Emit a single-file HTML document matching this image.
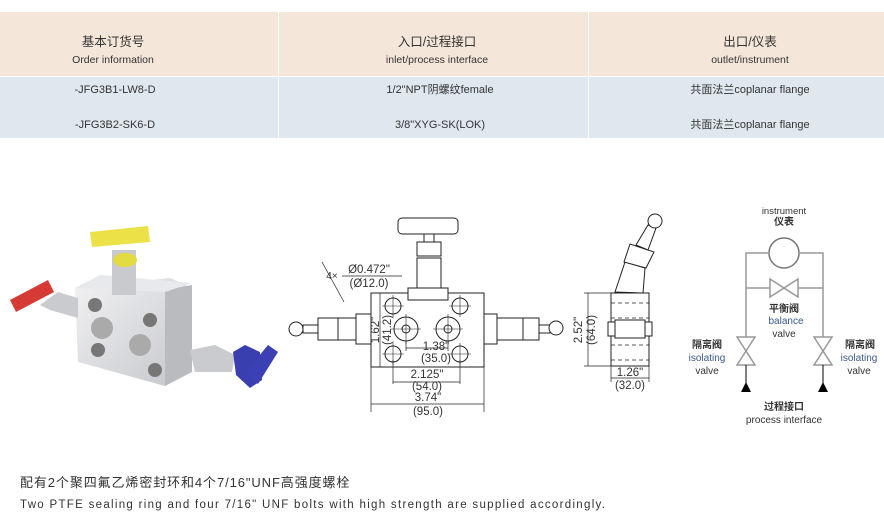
<!DOCTYPE html>
<html><head><meta charset="utf-8"><style>
body{margin:0;background:#fff;width:884px;height:522px;overflow:hidden;position:relative;font-family:"Liberation Sans","Noto Sans CJK SC",sans-serif;color:#333}
.t{position:absolute;white-space:nowrap;transform:translateX(-50%);font-size:11px;text-align:center;line-height:13px}
</style></head><body>
<div style="position:absolute;left:0;top:12px;width:884px;height:64px;background:#f4e6d8"></div>
<div style="position:absolute;left:0;top:77px;width:884px;height:61px;background:#dfe8ee"></div>
<div style="position:absolute;left:278px;top:12px;width:1px;height:126px;background:#fff"></div>
<div style="position:absolute;left:588px;top:12px;width:1px;height:126px;background:#fff"></div>
<div class="t" style="left:113px;top:34px;font-size:12.5px;line-height:17px">基本订货号<br><span style="font-size:10.5px">Order information</span></div>
<div class="t" style="left:437px;top:34px;font-size:12.5px;line-height:17px">入口/过程接口<br><span style="font-size:10.5px">inlet/process interface</span></div>
<div class="t" style="left:750px;top:34px;font-size:12.5px;line-height:17px">出口/仪表<br><span style="font-size:10.5px">outlet/instrument</span></div>
<div class="t" style="left:115px;top:84px">-JFG3B1-LW8-D</div>
<div class="t" style="left:440px;top:84px">1/2"NPT阴螺纹female</div>
<div class="t" style="left:750px;top:84px">共面法兰coplanar flange</div>
<div class="t" style="left:115px;top:119px">-JFG3B2-SK6-D</div>
<div class="t" style="left:440px;top:119px">3/8"XYG-SK(LOK)</div>
<div class="t" style="left:750px;top:119px">共面法兰coplanar flange</div>

<svg style="position:absolute;left:0;top:0" width="884" height="522" font-family="Liberation Sans, Noto Sans CJK SC, sans-serif">
<defs><linearGradient id="s" x1="0" x2="1" y1="0" y2="1"><stop offset="0" stop-color="#f2f2f4"/><stop offset="1" stop-color="#c4c6ca"/></linearGradient></defs>
<g>
<polygon points="75,288 170,278 192,288 190,372 165,386 78,362" fill="url(#s)"/>
<polygon points="165,290 192,285 192,372 165,386" fill="#b9bbbf"/>
<polygon points="75,288 100,275 192,283 165,292" fill="#e8e9ec"/>
<rect x="112" y="250" width="24" height="45" fill="#c8cacd"/>
<ellipse cx="125" cy="260" rx="12" ry="7" fill="#e2dc40"/>
<polygon points="90,232 148,226 150,242 92,247" fill="#ece146"/>
<polygon points="40,305 58,292 78,298 78,318 50,310" fill="#c9cbce"/>
<polygon points="10,300 48,280 54,292 16,312" fill="#d63a34"/>
<polygon points="190,350 215,345 235,355 232,372 195,372" fill="#c9cbce"/>
<polygon points="233,352 245,345 260,352 262,380 250,388 236,375" fill="#3a3fb0"/>
<polygon points="246,372 268,345 278,352 258,384" fill="#3b40b5"/>
<circle cx="95" cy="305" r="7" fill="#777"/><circle cx="150" cy="320" r="7" fill="#777"/>
<circle cx="98" cy="350" r="7" fill="#777"/><circle cx="155" cy="370" r="7" fill="#777"/>
<circle cx="102" cy="328" r="11" fill="#aaa"/><circle cx="140" cy="345" r="11" fill="#aaa"/>
</g>
<g fill="none" stroke="#222" stroke-width="1">
<rect x="371" y="293" width="113" height="74" fill="#fff"/>
<rect x="398" y="218" width="60" height="16" rx="4" fill="#fff"/>
<rect x="424" y="234" width="10" height="8" fill="#fff"/>
<rect x="417" y="242" width="24" height="14" fill="#fff"/>
<rect x="417" y="258" width="24" height="30" fill="#fff"/>
<rect x="408" y="288" width="40" height="12" fill="#fff"/>
<circle cx="393" cy="306" r="8"/><circle cx="460" cy="306" r="8"/>
<circle cx="393" cy="354" r="8"/><circle cx="460" cy="354" r="8"/>
<circle cx="406" cy="329" r="12"/><circle cx="406" cy="329" r="4"/>
<circle cx="448" cy="329" r="12"/><circle cx="448" cy="329" r="4"/>
<path d="M393 295v22M382 306h22M460 295v22M449 306h22M393 343v22M382 354h22M460 343v22M449 354h22M406 314v30M391 329h30M448 314v30M433 329h30" stroke-width=".6"/>
<circle cx="296" cy="329" r="7" fill="#fff"/>
<rect x="303" y="325" width="15" height="8" fill="#fff"/>
<rect x="318" y="318" width="20" height="22" fill="#fff"/>
<rect x="338" y="318" width="18" height="22" fill="#fff"/>
<rect x="356" y="314" width="15" height="30" fill="#fff"/>
<rect x="484" y="314" width="13" height="30" fill="#fff"/>
<rect x="497" y="318" width="26" height="22" fill="#fff"/>
<rect x="523" y="318" width="16" height="22" fill="#fff"/>
<rect x="539" y="325" width="11" height="8" fill="#fff"/>
<circle cx="556" cy="328" r="7" fill="#fff"/>
<path d="M380 293v74M371 367v45M484 367v45M371 404h113M393 360v24M460 360v24M393 382h67M406 341v10M448 341v10M406 348h42M322 262l22 40" stroke-width=".7"/>
<path d="M342 276h60" stroke-width=".7"/>
</g>
<g font-size="11.5" fill="#333" text-anchor="middle">
<text x="436" y="350">1.38"</text><text x="436" y="362">(35.0)</text>
<text x="427" y="378">2.125"</text><text x="427" y="390">(54.0)</text>
<text x="428" y="401">3.74"</text><text x="428" y="415">(95.0)</text>
<text x="332" y="279" font-size="10">4×</text>
<text x="369" y="273">Ø0.472"</text><text x="369" y="287">(Ø12.0)</text>
<text transform="translate(379,330) rotate(-90)">1.62"</text>
<text transform="translate(391,330) rotate(-90)">(41.2)</text>
<text transform="translate(582,330) rotate(-90)">2.52"</text>
<text transform="translate(595,330) rotate(-90)">(64.0)</text>
<text x="630" y="376">1.26"</text><text x="630" y="389">(32.0)</text>
</g>
<g fill="none" stroke="#222" stroke-width="1">
<rect x="611" y="293" width="38" height="73" fill="#fff"/>
<path d="M611 303h38M611 318h38M611 345h38M611 360h38" stroke-dasharray="4 3" stroke-width=".7"/>
<rect x="608" y="322" width="7" height="14" fill="#fff"/><rect x="615" y="320" width="30" height="18" fill="#fff"/><rect x="645" y="322" width="7" height="14" fill="#fff"/>
<polygon points="615,292 625,262 645,268 643,293" fill="#fff"/>
<polygon points="624,262 630,244 654,252 646,268" fill="#fff"/>
<polygon points="636,245 648,225 656,228 648,250" fill="#fff"/>
<circle cx="655" cy="221" r="7" fill="#fff"/>
<path d="M611 293h-27M611 366h-27M588 293v73M611 366v16M649 366v16M611 378h38" stroke-width=".7"/>
</g>
<g fill="none" stroke="#999" stroke-width="1.5">
<circle cx="784" cy="253" r="15" fill="#fff" stroke="#777"/>
<path d="M769 253h-23v84M799 253h24v84M746 288h24M798 288h25"/>
<polygon points="770,279 770,297 798,279 798,297" fill="#fff"/>
<polygon points="737,337 755,337 737,365 755,365" fill="#fff"/>
<polygon points="814,337 832,337 814,365 832,365" fill="#fff"/>
</g>
<path d="M746 365v21M823 365v21" stroke="#000"/>
<polygon points="741,392 751,392 746,382" fill="#000"/><polygon points="818,392 828,392 823,382" fill="#000"/>
<g font-size="10" fill="#333" text-anchor="middle">
<text x="784" y="214" font-size="9.5">instrument</text><text x="784" y="225" font-weight="bold">仪表</text>
<text x="784" y="312" font-weight="bold">平衡阀</text><text x="786" y="324" fill="#3a5a8a">balance</text><text x="784" y="337">valve</text>
<text x="707" y="348" font-weight="bold">隔离阀</text><text x="707" y="361" fill="#3a5a8a">isolating</text><text x="707" y="374">valve</text>
<text x="860" y="348" font-weight="bold">隔离阀</text><text x="859" y="361" fill="#3a5a8a">isolating</text><text x="859" y="374">valve</text>
<text x="784" y="410" font-weight="bold">过程接口</text><text x="784" y="423">process interface</text>
</g>
</svg>
<div style="position:absolute;left:20px;top:472px;font-size:13px;letter-spacing:0.9px">配有2个聚四氟乙烯密封环和4个7/16"UNF高强度螺栓</div>
<div style="position:absolute;left:20px;top:499px;font-size:11.5px;letter-spacing:1.3px">Two PTFE sealing ring and four 7/16" UNF bolts with high strength are supplied accordingly.</div>
</body></html>
